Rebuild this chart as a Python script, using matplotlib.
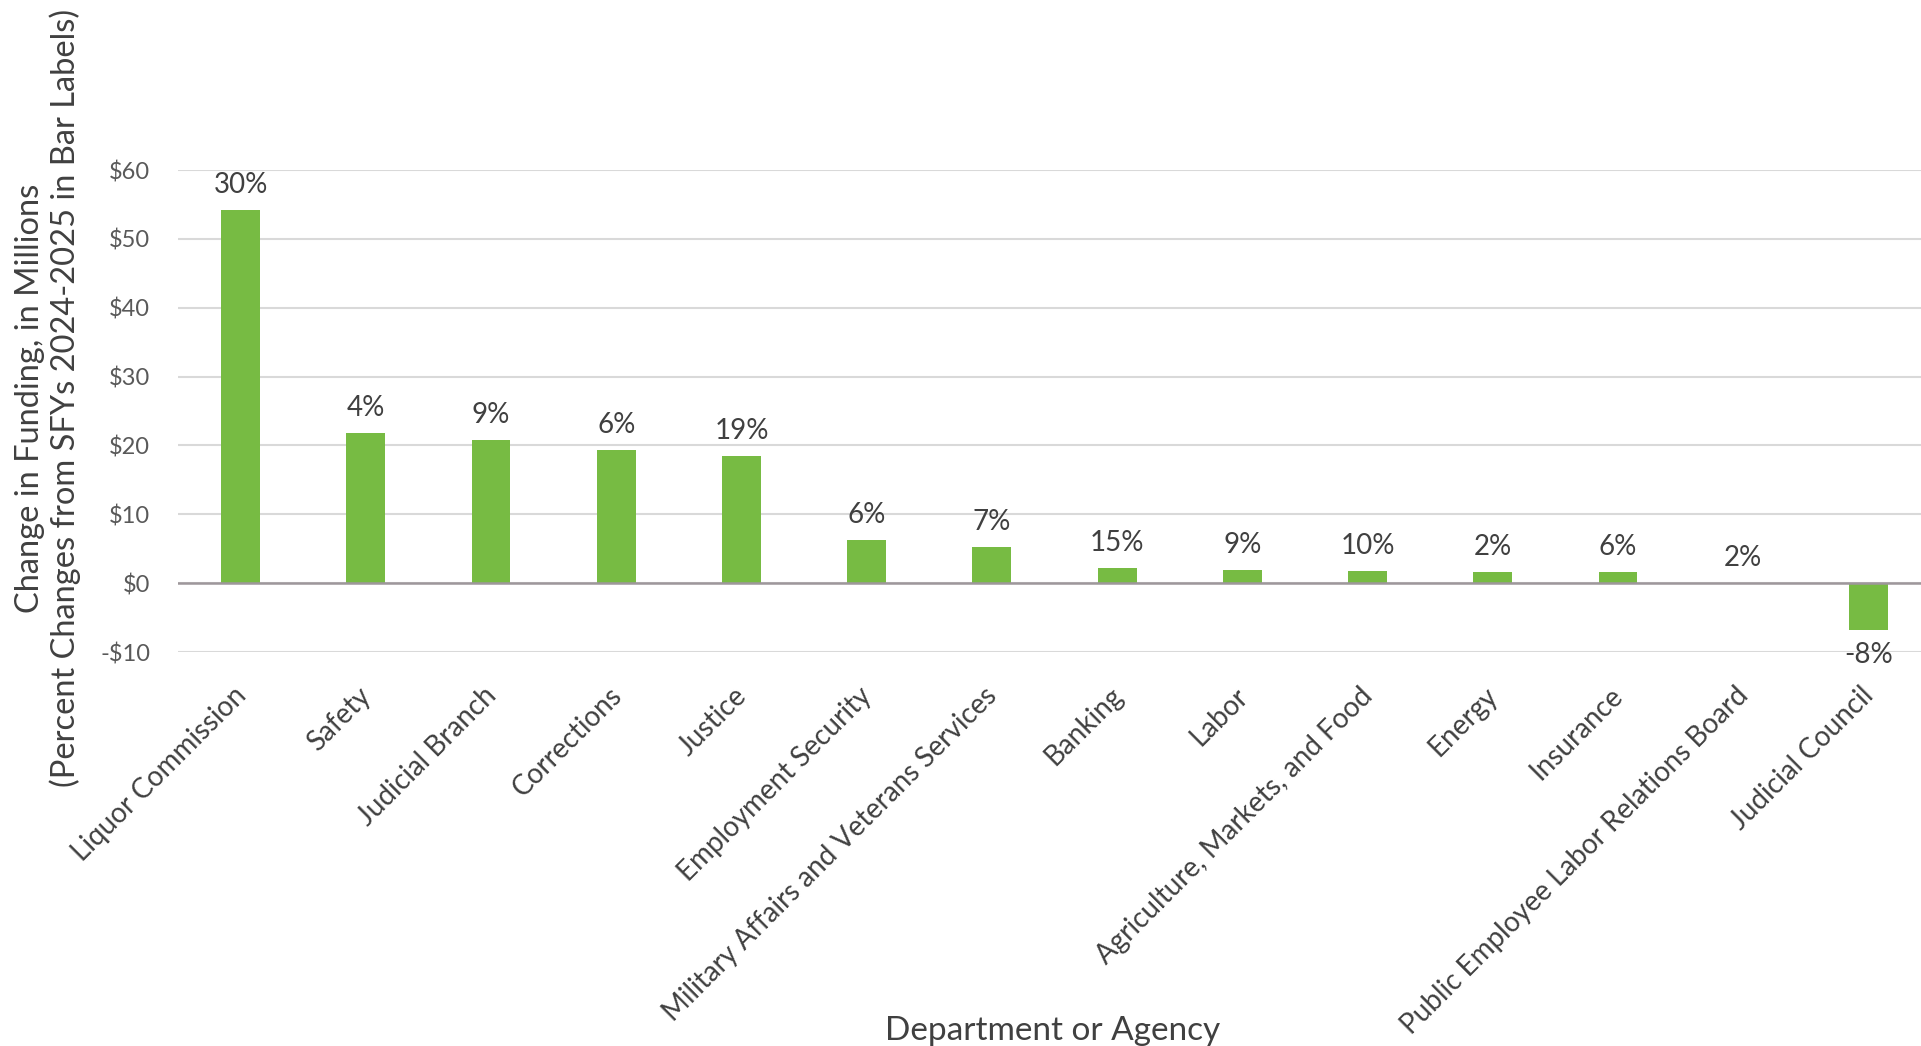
import matplotlib.pyplot as plt
import matplotlib.transforms as mtransforms
import numpy as np

# data
departments = ["Liquor Commission", "Safety", "Judicial Branch", "Corrections", "Justice",
               "Employment Security", "Military Affairs and Veterans Services", "Banking",
               "Labor", "Agriculture, Markets, and Food", "Energy", "Insurance",
               "Public Employee Labor Relations Board", "Judicial Council"]
change_millions = [54.2, 21.8, 20.8, 19.3, 18.5, 6.3, 5.3, 2.2, 1.9, 1.8, 1.6, 1.6, 0.05, -6.8]
pct_labels = ["30%", "4%", "9%", "6%", "19%", "6%", "7%", "15%", "9%", "10%", "2%", "6%", "2%", "-8%"]
yticks = [-10, 0, 10, 20, 30, 40, 50, 60]

plt.rcParams['font.family'] = ['Lato', 'DejaVu Sans']
text_col = '#404040'
green = '#77BB43'

fig = plt.figure(figsize=(19.21, 10.46), dpi=100)
ax = fig.add_axes([178 / 1921, 1 - 652 / 1046, 1753 / 1921, 482 / 1046])

x = np.arange(len(departments))
bars = ax.bar(x, change_millions, width=0.31, color=green, zorder=3)

for xi, v, lab in zip(x, change_millions, pct_labels):
    off = 18 if v >= 0 else -18
    ax.annotate(lab, (xi, v), xytext=(0, off), textcoords='offset points',
                ha='center', va='center', fontsize=20, color=text_col)

ax.set_xlim(-0.5, len(departments) - 0.5)
ax.set_ylim(-10, 60)
ax.set_yticks(yticks)
ax.set_yticklabels([f"-${-t}" if t < 0 else f"${t}" for t in yticks])
ax.tick_params(axis='y', length=0, pad=20, labelsize=17, labelcolor='#595959')
ax.grid(axis='y', color='#D9D9D9', linewidth=1.5, zorder=0)
ax.axhline(0, color='#9E979B', linewidth=1.8, zorder=4)

ax.set_xticks(x)
ax.set_xticklabels(departments, rotation=45, ha='right', rotation_mode='anchor')
ax.tick_params(axis='x', length=0, pad=22, labelsize=20, labelcolor=text_col)
# nudge rotated labels a bit to the left, like the original
shift = mtransforms.ScaledTranslation(-8 / 100, 0, fig.dpi_scale_trans)
for t in ax.get_xticklabels():
    t.set_transform(t.get_transform() + shift)

for s in ax.spines.values():
    s.set_visible(False)

fig.text(48 / 1921, 1 - 398 / 1046,
         "Change in Funding, in Millions\n(Percent Changes from SFYs 2024-2025 in Bar Labels)",
         rotation=90, ha='center', va='center', fontsize=23.5, color=text_col,
         multialignment='center', linespacing=1.15)
fig.text(1053 / 1921, 1 - 1031 / 1046, "Department or Agency",
         ha='center', va='center', fontsize=24, color=text_col)

fig.savefig('out.png', dpi=100)
